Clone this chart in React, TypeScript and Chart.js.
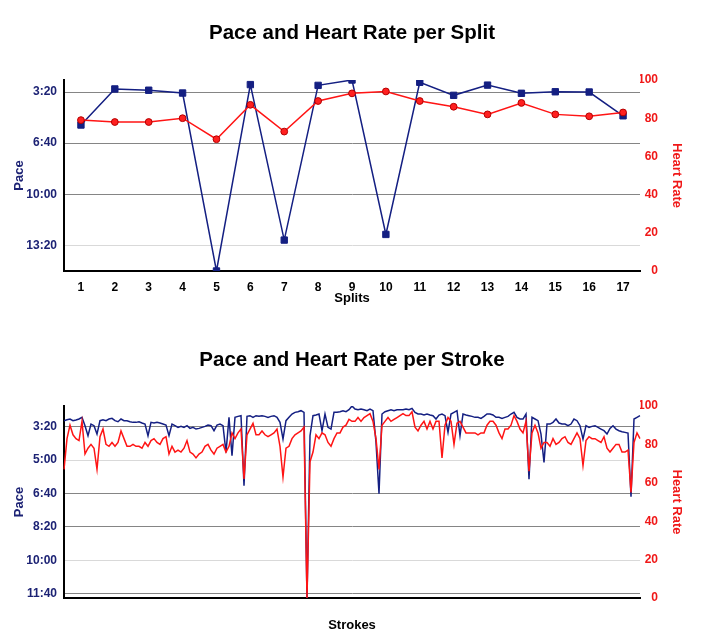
import React, { useEffect, useRef } from 'react';
import { Chart, registerables } from 'chart.js';

Chart.register(...registerables);

const FONT = '"Liberation Sans", Arial, Helvetica, sans-serif';
const NAVY = '#141f82';
const NAVY_TEXT = '#1c2274';
const RED = '#ff1414';
const RED_TEXT = '#f01818';

// ---- Chart 1: per split ----
const splitLabels = ['1', '2', '3', '4', '5', '6', '7', '8', '9', '10', '11', '12', '13', '14', '15', '16', '17'];
const splitPace = [329, 188, 193, 204, 900, 171, 779, 174, 153, 757, 162, 213, 173, 205, 199, 200, 293];
const splitHR = [79, 78, 78, 80, 69, 87, 73, 89, 93, 94, 89, 86, 82, 88, 82, 81, 83];
const splitPaceTicks = [200, 400, 600, 800];

// ---- Chart 2: per stroke ----
const strokePace = [
  182, 179, 177, 182, 180, 177, 172, 197, 227, 192,
  197, 222, 182, 179, 182, 177, 175, 182, 185, 177,
  182, 182, 185, 187, 187, 185, 189, 192, 227, 187,
  189, 187, 189, 192, 195, 227, 192, 197, 202, 199,
  202, 197, 205, 202, 207, 205, 202, 199, 195, 197,
  212, 195, 192, 197, 277, 172, 287, 172, 169, 167,
  377, 169, 167, 172, 167, 169, 167, 169, 172, 169,
  167, 172, 187, 237, 182, 172, 162, 157, 155, 152,
  157, 713, 227, 167, 165, 162, 212, 162, 202, 207,
  157, 157, 155, 152, 155, 149, 138, 147, 149, 147,
  149, 152, 147, 152, 247, 401, 162, 155, 152, 149,
  152, 149, 149, 149, 147, 149, 145, 157, 162, 162,
  165, 162, 165, 167, 177, 165, 162, 167, 217, 162,
  157, 152, 227, 162, 165, 167, 169, 172, 172, 175,
  169, 162, 162, 165, 172, 172, 175, 172, 169, 162,
  157, 172, 177, 177, 162, 357, 172, 177, 182, 222,
  307, 192, 192, 187, 177, 189, 192, 192, 197, 192,
  177, 182, 197, 237, 197, 202, 199, 197, 202, 207,
  212, 222, 205, 197, 207, 212, 215, 217, 219, 410,
  177, 172, 167,
];
const strokeHR = [
  67, 83, 90, 85, 83, 82, 92, 75, 78, 80,
  78, 67, 84, 88, 80, 79, 81, 79, 81, 87,
  83, 79, 79, 80, 79, 79, 78, 81, 79, 82,
  83, 81, 80, 83, 84, 75, 79, 76, 77, 76,
  78, 82, 76, 75, 73, 75, 76, 79, 80, 77,
  75, 78, 79, 80, 76, 79, 86, 83, 86, 88,
  62, 85, 88, 91, 85, 85, 87, 85, 84, 85,
  86, 88, 79, 63, 78, 79, 83, 85, 86, 87,
  89, 0, 71, 76, 85, 83, 86, 85, 81, 79,
  83, 86, 86, 89, 90, 93, 92, 92, 94, 92,
  94, 95, 96, 92, 83, 67, 90, 92, 94, 92,
  93, 94, 95, 96, 95, 95, 97, 89, 87, 90,
  92, 88, 92, 88, 92, 92, 73, 90, 94, 92,
  80, 91, 92, 89, 86, 86, 86, 86, 85, 86,
  86, 90, 92, 92, 90, 86, 83, 88, 88, 90,
  95, 92, 88, 86, 92, 66, 86, 90, 86, 78,
  81, 81, 79, 83, 80, 81, 83, 84, 81, 80,
  83, 86, 83, 69, 82, 84, 83, 83, 82, 81,
  84, 78, 76, 78, 80, 80, 76, 76, 77, 55,
  81, 86, 83,
];
const strokeLabels = strokePace.map((_, i) => String(i + 1));
const strokePaceTicks = [200, 300, 400, 500, 600, 700];

function fmtPace(v: number): string {
  const m = Math.floor(v / 60);
  const s = Math.round(v - m * 60);
  return `${m}:${String(s).padStart(2, '0')}`;
}

function makeConfig(opts: {
  title: string;
  labels: string[];
  pace: number[];
  hr: number[];
  paceTicks: number[];
  lightTicks: number[];
  xTitle: string;
  showXTicks: boolean;
  xHeight: number;
  xTitlePadBottom: number;
  titlePad: { top: number; bottom: number };
  points: boolean;
}): any {
  const tickFont = { family: FONT, size: 12, weight: 'bold' as const };
  const titleFont = { family: FONT, size: 13, weight: 'bold' as const };
  const paceMin = Math.min(...opts.pace);
  const paceMax = Math.max(...opts.pace);
  return {
    type: 'line',
    data: {
      labels: opts.labels,
      datasets: [
        {
          label: 'Pace',
          data: opts.pace,
          yAxisID: 'y',
          borderColor: NAVY,
          backgroundColor: NAVY,
          borderWidth: 1.5,
          tension: 0,
          order: 2,
          pointStyle: 'rect',
          pointRadius: opts.points ? 4.5 : 0,
          pointBackgroundColor: NAVY,
          pointBorderColor: NAVY,
          pointBorderWidth: 1,
        },
        {
          label: 'Heart Rate',
          data: opts.hr,
          yAxisID: 'yHR',
          borderColor: RED,
          backgroundColor: RED,
          borderWidth: 1.5,
          tension: 0,
          order: 1,
          pointStyle: 'circle',
          pointRadius: opts.points ? 3.4 : 0,
          pointBackgroundColor: '#ff2020',
          pointBorderColor: '#b40000',
          pointBorderWidth: 1,
        },
      ],
    },
    options: {
      responsive: false,
      animation: false,
      events: [],
      layout: { padding: 0, autoPadding: false },
      plugins: {
        legend: { display: false },
        tooltip: { enabled: false },
        title: {
          display: true,
          fullSize: false,
          text: opts.title,
          color: '#000',
          font: { family: FONT, size: 20.5, weight: 'bold', lineHeight: 24 / 20.5 },
          padding: opts.titlePad,
        },
      },
      scales: {
        x: {
          type: 'category',
          offset: opts.points,
          grid: { display: false, drawTicks: false },
          border: { display: true, color: '#000', width: 2 },
          ticks: {
            display: opts.showXTicks,
            color: '#000',
            font: tickFont,
            padding: 9,
            autoSkip: false,
            maxRotation: 0,
          },
          title: {
            display: true,
            text: opts.xTitle,
            color: '#000',
            font: titleFont,
            padding: { top: 0, bottom: opts.xTitlePadBottom },
          },
          afterFit: (s: any) => {
            s.height = opts.xHeight;
          },
        },
        y: {
          type: 'linear',
          position: 'left',
          reverse: true,
          bounds: 'data',
          min: paceMin,
          max: paceMax,
          afterBuildTicks: (s: any) => {
            s.ticks = opts.paceTicks.map((v) => ({ value: v }));
          },
          grid: {
            drawTicks: false,
            lineWidth: 1,
            color: (ctx: any) =>
              ctx.tick && opts.lightTicks.includes(ctx.tick.value) ? '#d9d9d9' : '#858585',
          },
          border: { display: true, color: '#000', width: 2 },
          ticks: {
            color: NAVY_TEXT,
            font: tickFont,
            padding: 7,
            callback: (v: any) => fmtPace(Number(v)),
          },
          title: {
            display: true,
            text: 'Pace',
            color: NAVY_TEXT,
            font: titleFont,
            padding: { top: 12, bottom: 0 },
          },
          afterFit: (s: any) => {
            s.width = 64;
          },
        },
        yHR: {
          type: 'linear',
          position: 'right',
          min: 0,
          max: 100,
          grid: { display: false, drawTicks: false },
          border: { display: false },
          ticks: {
            stepSize: 20,
            color: RED_TEXT,
            font: tickFont,
            padding: 0,
            crossAlign: 'far',
          },
          afterFit: (s: any) => {
            s.width = 18;
          },
        },
        yHRTitle: {
          type: 'linear',
          position: 'right',
          min: 0,
          max: 100,
          grid: { display: false, drawTicks: false },
          border: { display: false },
          ticks: { display: false },
          title: {
            display: true,
            text: 'Heart Rate',
            color: RED_TEXT,
            font: titleFont,
            padding: { top: 24, bottom: 0 },
          },
          afterFit: (s: any) => {
            s.width = 50;
          },
        },
      },
    },
  };
}

function ChartCanvas({ config, width, height }: { config: any; width: number; height: number }) {
  const ref = useRef<HTMLCanvasElement | null>(null);
  useEffect(() => {
    if (!ref.current) return;
    const chart = new Chart(ref.current, config);
    return () => chart.destroy();
  }, [config]);
  return <canvas ref={ref} width={width} height={height} style={{ display: 'block', width, height }} />;
}

const splitConfig = makeConfig({
  title: 'Pace and Heart Rate per Split',
  labels: splitLabels,
  pace: splitPace,
  hr: splitHR,
  paceTicks: splitPaceTicks,
  lightTicks: [800],
  xTitle: 'Splits',
  showXTicks: true,
  xHeight: 39,
  xTitlePadBottom: 4,
  titlePad: { top: 21, bottom: 35 },
  points: true,
});

const strokeConfig = makeConfig({
  title: 'Pace and Heart Rate per Stroke',
  labels: strokeLabels,
  pace: strokePace,
  hr: strokeHR,
  paceTicks: strokePaceTicks,
  lightTicks: [300, 600],
  xTitle: 'Strokes',
  showXTicks: false,
  xHeight: 35,
  xTitlePadBottom: 0,
  titlePad: { top: 38, bottom: 34 },
  points: false,
});

export default function App() {
  return (
    <div style={{ position: 'absolute', left: 0, top: 0, width: 708, height: 633, background: '#fff' }}>
      <ChartCanvas config={splitConfig} width={708} height={310} />
      <ChartCanvas config={strokeConfig} width={708} height={323} />
    </div>
  );
}
